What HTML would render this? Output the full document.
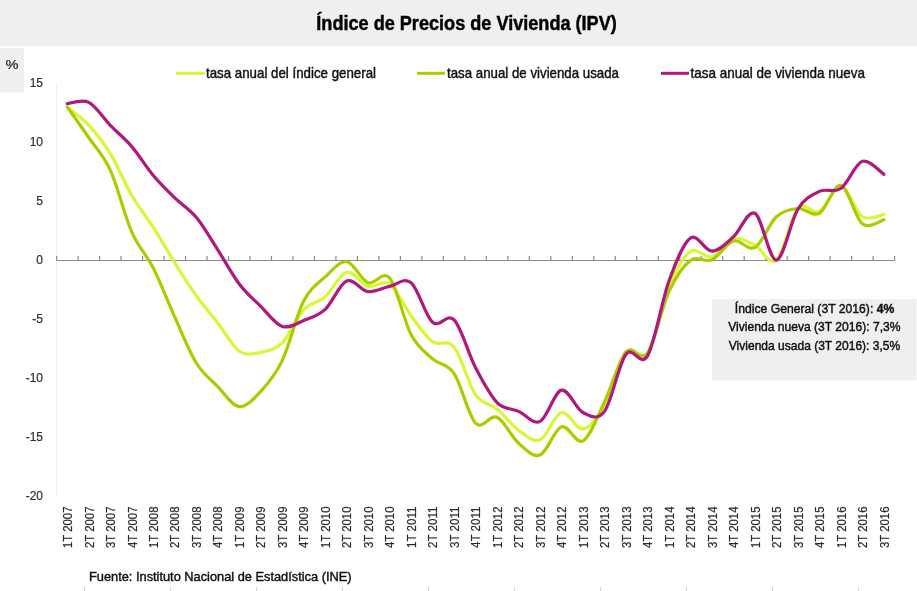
<!DOCTYPE html><html><head><meta charset="utf-8"><style>html,body{margin:0;padding:0;background:#fff;width:917px;height:591px;overflow:hidden}svg{display:block;will-change:transform}text{font-family:"Liberation Sans",sans-serif} .t{stroke:currentColor;stroke-width:0.45px} .u{stroke:currentColor;stroke-width:0.2px}</style></head><body>
<svg width="917" height="591" viewBox="0 0 917 591">
<rect x="0" y="0" width="917" height="591" fill="#ffffff"/>
<rect x="0" y="0" width="917" height="46.5" fill="#eff0ee"/>
<text class="t" color="#000" x="316.3" y="29.7" font-size="20" font-weight="bold" fill="#000" textLength="300.5" lengthAdjust="spacingAndGlyphs">Índice de Precios de Vivienda (IPV)</text>
<rect x="0" y="48" width="24" height="44.5" fill="#eff0ee"/>
<text class="u" color="#222" x="5.5" y="69.4" font-size="13" fill="#222" textLength="13" lengthAdjust="spacingAndGlyphs">%</text>
<line x1="176" y1="73.3" x2="205" y2="73.3" stroke="#d9f736" stroke-width="3"/>
<text class="t" color="#111" x="206" y="77.9" font-size="15" fill="#111" textLength="170" lengthAdjust="spacingAndGlyphs">tasa anual del índice general</text>
<line x1="417" y1="73.3" x2="445" y2="73.3" stroke="#aacc00" stroke-width="3"/>
<text class="t" color="#111" x="447" y="77.9" font-size="15" fill="#111" textLength="172" lengthAdjust="spacingAndGlyphs">tasa anual de vivienda usada</text>
<line x1="661" y1="73.3" x2="689" y2="73.3" stroke="#b0187e" stroke-width="3"/>
<text class="t" color="#111" x="690.5" y="77.9" font-size="15" fill="#111" textLength="174.5" lengthAdjust="spacingAndGlyphs">tasa anual de vivienda nueva</text>
<line x1="56.4" y1="83.3" x2="56.4" y2="496.2" stroke="#ededed" stroke-width="1"/>
<text class="u" color="#2e2e2e" x="43" y="87.3" font-size="12" fill="#2e2e2e" text-anchor="end">15</text>
<text class="u" color="#2e2e2e" x="43" y="146.3" font-size="12" fill="#2e2e2e" text-anchor="end">10</text>
<text class="u" color="#2e2e2e" x="43" y="205.2" font-size="12" fill="#2e2e2e" text-anchor="end">5</text>
<text class="u" color="#2e2e2e" x="43" y="264.2" font-size="12" fill="#2e2e2e" text-anchor="end">0</text>
<text class="u" color="#2e2e2e" x="43" y="323.2" font-size="12" fill="#2e2e2e" text-anchor="end">-5</text>
<text class="u" color="#2e2e2e" x="43" y="382.1" font-size="12" fill="#2e2e2e" text-anchor="end">-10</text>
<text class="u" color="#2e2e2e" x="43" y="441.1" font-size="12" fill="#2e2e2e" text-anchor="end">-15</text>
<text class="u" color="#2e2e2e" x="43" y="500.1" font-size="12" fill="#2e2e2e" text-anchor="end">-20</text>
<line x1="56.6" y1="260.5" x2="894.6" y2="260.5" stroke="#8a8a8a" stroke-width="1.1"/>
<line x1="56.60" y1="256" x2="56.60" y2="260.5" stroke="#8a8a8a" stroke-width="1.2"/>
<line x1="78.09" y1="256" x2="78.09" y2="260.5" stroke="#8a8a8a" stroke-width="1.2"/>
<line x1="99.57" y1="256" x2="99.57" y2="260.5" stroke="#8a8a8a" stroke-width="1.2"/>
<line x1="121.06" y1="256" x2="121.06" y2="260.5" stroke="#8a8a8a" stroke-width="1.2"/>
<line x1="142.55" y1="256" x2="142.55" y2="260.5" stroke="#8a8a8a" stroke-width="1.2"/>
<line x1="164.04" y1="256" x2="164.04" y2="260.5" stroke="#8a8a8a" stroke-width="1.2"/>
<line x1="185.52" y1="256" x2="185.52" y2="260.5" stroke="#8a8a8a" stroke-width="1.2"/>
<line x1="207.01" y1="256" x2="207.01" y2="260.5" stroke="#8a8a8a" stroke-width="1.2"/>
<line x1="228.50" y1="256" x2="228.50" y2="260.5" stroke="#8a8a8a" stroke-width="1.2"/>
<line x1="249.98" y1="256" x2="249.98" y2="260.5" stroke="#8a8a8a" stroke-width="1.2"/>
<line x1="271.47" y1="256" x2="271.47" y2="260.5" stroke="#8a8a8a" stroke-width="1.2"/>
<line x1="292.96" y1="256" x2="292.96" y2="260.5" stroke="#8a8a8a" stroke-width="1.2"/>
<line x1="314.45" y1="256" x2="314.45" y2="260.5" stroke="#8a8a8a" stroke-width="1.2"/>
<line x1="335.93" y1="256" x2="335.93" y2="260.5" stroke="#8a8a8a" stroke-width="1.2"/>
<line x1="357.42" y1="256" x2="357.42" y2="260.5" stroke="#8a8a8a" stroke-width="1.2"/>
<line x1="378.91" y1="256" x2="378.91" y2="260.5" stroke="#8a8a8a" stroke-width="1.2"/>
<line x1="400.39" y1="256" x2="400.39" y2="260.5" stroke="#8a8a8a" stroke-width="1.2"/>
<line x1="421.88" y1="256" x2="421.88" y2="260.5" stroke="#8a8a8a" stroke-width="1.2"/>
<line x1="443.37" y1="256" x2="443.37" y2="260.5" stroke="#8a8a8a" stroke-width="1.2"/>
<line x1="464.86" y1="256" x2="464.86" y2="260.5" stroke="#8a8a8a" stroke-width="1.2"/>
<line x1="486.34" y1="256" x2="486.34" y2="260.5" stroke="#8a8a8a" stroke-width="1.2"/>
<line x1="507.83" y1="256" x2="507.83" y2="260.5" stroke="#8a8a8a" stroke-width="1.2"/>
<line x1="529.32" y1="256" x2="529.32" y2="260.5" stroke="#8a8a8a" stroke-width="1.2"/>
<line x1="550.81" y1="256" x2="550.81" y2="260.5" stroke="#8a8a8a" stroke-width="1.2"/>
<line x1="572.29" y1="256" x2="572.29" y2="260.5" stroke="#8a8a8a" stroke-width="1.2"/>
<line x1="593.78" y1="256" x2="593.78" y2="260.5" stroke="#8a8a8a" stroke-width="1.2"/>
<line x1="615.27" y1="256" x2="615.27" y2="260.5" stroke="#8a8a8a" stroke-width="1.2"/>
<line x1="636.75" y1="256" x2="636.75" y2="260.5" stroke="#8a8a8a" stroke-width="1.2"/>
<line x1="658.24" y1="256" x2="658.24" y2="260.5" stroke="#8a8a8a" stroke-width="1.2"/>
<line x1="679.73" y1="256" x2="679.73" y2="260.5" stroke="#8a8a8a" stroke-width="1.2"/>
<line x1="701.22" y1="256" x2="701.22" y2="260.5" stroke="#8a8a8a" stroke-width="1.2"/>
<line x1="722.70" y1="256" x2="722.70" y2="260.5" stroke="#8a8a8a" stroke-width="1.2"/>
<line x1="744.19" y1="256" x2="744.19" y2="260.5" stroke="#8a8a8a" stroke-width="1.2"/>
<line x1="765.68" y1="256" x2="765.68" y2="260.5" stroke="#8a8a8a" stroke-width="1.2"/>
<line x1="787.16" y1="256" x2="787.16" y2="260.5" stroke="#8a8a8a" stroke-width="1.2"/>
<line x1="808.65" y1="256" x2="808.65" y2="260.5" stroke="#8a8a8a" stroke-width="1.2"/>
<line x1="830.14" y1="256" x2="830.14" y2="260.5" stroke="#8a8a8a" stroke-width="1.2"/>
<line x1="851.63" y1="256" x2="851.63" y2="260.5" stroke="#8a8a8a" stroke-width="1.2"/>
<line x1="873.11" y1="256" x2="873.11" y2="260.5" stroke="#8a8a8a" stroke-width="1.2"/>
<line x1="894.60" y1="256" x2="894.60" y2="260.5" stroke="#8a8a8a" stroke-width="1.2"/>
<text class="u" color="#2a2a2a" transform="translate(72.04,506.5) rotate(-90)" font-size="13" fill="#2a2a2a" text-anchor="end" textLength="41.5" lengthAdjust="spacingAndGlyphs">1T 2007</text>
<text class="u" color="#2a2a2a" transform="translate(93.53,506.5) rotate(-90)" font-size="13" fill="#2a2a2a" text-anchor="end" textLength="41.5" lengthAdjust="spacingAndGlyphs">2T 2007</text>
<text class="u" color="#2a2a2a" transform="translate(115.02,506.5) rotate(-90)" font-size="13" fill="#2a2a2a" text-anchor="end" textLength="41.5" lengthAdjust="spacingAndGlyphs">3T 2007</text>
<text class="u" color="#2a2a2a" transform="translate(136.51,506.5) rotate(-90)" font-size="13" fill="#2a2a2a" text-anchor="end" textLength="41.5" lengthAdjust="spacingAndGlyphs">4T 2007</text>
<text class="u" color="#2a2a2a" transform="translate(157.99,506.5) rotate(-90)" font-size="13" fill="#2a2a2a" text-anchor="end" textLength="41.5" lengthAdjust="spacingAndGlyphs">1T 2008</text>
<text class="u" color="#2a2a2a" transform="translate(179.48,506.5) rotate(-90)" font-size="13" fill="#2a2a2a" text-anchor="end" textLength="41.5" lengthAdjust="spacingAndGlyphs">2T 2008</text>
<text class="u" color="#2a2a2a" transform="translate(200.97,506.5) rotate(-90)" font-size="13" fill="#2a2a2a" text-anchor="end" textLength="41.5" lengthAdjust="spacingAndGlyphs">3T 2008</text>
<text class="u" color="#2a2a2a" transform="translate(222.45,506.5) rotate(-90)" font-size="13" fill="#2a2a2a" text-anchor="end" textLength="41.5" lengthAdjust="spacingAndGlyphs">4T 2008</text>
<text class="u" color="#2a2a2a" transform="translate(243.94,506.5) rotate(-90)" font-size="13" fill="#2a2a2a" text-anchor="end" textLength="41.5" lengthAdjust="spacingAndGlyphs">1T 2009</text>
<text class="u" color="#2a2a2a" transform="translate(265.43,506.5) rotate(-90)" font-size="13" fill="#2a2a2a" text-anchor="end" textLength="41.5" lengthAdjust="spacingAndGlyphs">2T 2009</text>
<text class="u" color="#2a2a2a" transform="translate(286.92,506.5) rotate(-90)" font-size="13" fill="#2a2a2a" text-anchor="end" textLength="41.5" lengthAdjust="spacingAndGlyphs">3T 2009</text>
<text class="u" color="#2a2a2a" transform="translate(308.40,506.5) rotate(-90)" font-size="13" fill="#2a2a2a" text-anchor="end" textLength="41.5" lengthAdjust="spacingAndGlyphs">4T 2009</text>
<text class="u" color="#2a2a2a" transform="translate(329.89,506.5) rotate(-90)" font-size="13" fill="#2a2a2a" text-anchor="end" textLength="41.5" lengthAdjust="spacingAndGlyphs">1T 2010</text>
<text class="u" color="#2a2a2a" transform="translate(351.38,506.5) rotate(-90)" font-size="13" fill="#2a2a2a" text-anchor="end" textLength="41.5" lengthAdjust="spacingAndGlyphs">2T 2010</text>
<text class="u" color="#2a2a2a" transform="translate(372.86,506.5) rotate(-90)" font-size="13" fill="#2a2a2a" text-anchor="end" textLength="41.5" lengthAdjust="spacingAndGlyphs">3T 2010</text>
<text class="u" color="#2a2a2a" transform="translate(394.35,506.5) rotate(-90)" font-size="13" fill="#2a2a2a" text-anchor="end" textLength="41.5" lengthAdjust="spacingAndGlyphs">4T 2010</text>
<text class="u" color="#2a2a2a" transform="translate(415.84,506.5) rotate(-90)" font-size="13" fill="#2a2a2a" text-anchor="end" textLength="41.5" lengthAdjust="spacingAndGlyphs">1T 2011</text>
<text class="u" color="#2a2a2a" transform="translate(437.33,506.5) rotate(-90)" font-size="13" fill="#2a2a2a" text-anchor="end" textLength="41.5" lengthAdjust="spacingAndGlyphs">2T 2011</text>
<text class="u" color="#2a2a2a" transform="translate(458.81,506.5) rotate(-90)" font-size="13" fill="#2a2a2a" text-anchor="end" textLength="41.5" lengthAdjust="spacingAndGlyphs">3T 2011</text>
<text class="u" color="#2a2a2a" transform="translate(480.30,506.5) rotate(-90)" font-size="13" fill="#2a2a2a" text-anchor="end" textLength="41.5" lengthAdjust="spacingAndGlyphs">4T 2011</text>
<text class="u" color="#2a2a2a" transform="translate(501.79,506.5) rotate(-90)" font-size="13" fill="#2a2a2a" text-anchor="end" textLength="41.5" lengthAdjust="spacingAndGlyphs">1T 2012</text>
<text class="u" color="#2a2a2a" transform="translate(523.27,506.5) rotate(-90)" font-size="13" fill="#2a2a2a" text-anchor="end" textLength="41.5" lengthAdjust="spacingAndGlyphs">2T 2012</text>
<text class="u" color="#2a2a2a" transform="translate(544.76,506.5) rotate(-90)" font-size="13" fill="#2a2a2a" text-anchor="end" textLength="41.5" lengthAdjust="spacingAndGlyphs">3T 2012</text>
<text class="u" color="#2a2a2a" transform="translate(566.25,506.5) rotate(-90)" font-size="13" fill="#2a2a2a" text-anchor="end" textLength="41.5" lengthAdjust="spacingAndGlyphs">4T 2012</text>
<text class="u" color="#2a2a2a" transform="translate(587.74,506.5) rotate(-90)" font-size="13" fill="#2a2a2a" text-anchor="end" textLength="41.5" lengthAdjust="spacingAndGlyphs">1T 2013</text>
<text class="u" color="#2a2a2a" transform="translate(609.22,506.5) rotate(-90)" font-size="13" fill="#2a2a2a" text-anchor="end" textLength="41.5" lengthAdjust="spacingAndGlyphs">2T 2013</text>
<text class="u" color="#2a2a2a" transform="translate(630.71,506.5) rotate(-90)" font-size="13" fill="#2a2a2a" text-anchor="end" textLength="41.5" lengthAdjust="spacingAndGlyphs">3T 2013</text>
<text class="u" color="#2a2a2a" transform="translate(652.20,506.5) rotate(-90)" font-size="13" fill="#2a2a2a" text-anchor="end" textLength="41.5" lengthAdjust="spacingAndGlyphs">4T 2013</text>
<text class="u" color="#2a2a2a" transform="translate(673.68,506.5) rotate(-90)" font-size="13" fill="#2a2a2a" text-anchor="end" textLength="41.5" lengthAdjust="spacingAndGlyphs">1T 2014</text>
<text class="u" color="#2a2a2a" transform="translate(695.17,506.5) rotate(-90)" font-size="13" fill="#2a2a2a" text-anchor="end" textLength="41.5" lengthAdjust="spacingAndGlyphs">2T 2014</text>
<text class="u" color="#2a2a2a" transform="translate(716.66,506.5) rotate(-90)" font-size="13" fill="#2a2a2a" text-anchor="end" textLength="41.5" lengthAdjust="spacingAndGlyphs">3T 2014</text>
<text class="u" color="#2a2a2a" transform="translate(738.15,506.5) rotate(-90)" font-size="13" fill="#2a2a2a" text-anchor="end" textLength="41.5" lengthAdjust="spacingAndGlyphs">4T 2014</text>
<text class="u" color="#2a2a2a" transform="translate(759.63,506.5) rotate(-90)" font-size="13" fill="#2a2a2a" text-anchor="end" textLength="41.5" lengthAdjust="spacingAndGlyphs">1T 2015</text>
<text class="u" color="#2a2a2a" transform="translate(781.12,506.5) rotate(-90)" font-size="13" fill="#2a2a2a" text-anchor="end" textLength="41.5" lengthAdjust="spacingAndGlyphs">2T 2015</text>
<text class="u" color="#2a2a2a" transform="translate(802.61,506.5) rotate(-90)" font-size="13" fill="#2a2a2a" text-anchor="end" textLength="41.5" lengthAdjust="spacingAndGlyphs">3T 2015</text>
<text class="u" color="#2a2a2a" transform="translate(824.09,506.5) rotate(-90)" font-size="13" fill="#2a2a2a" text-anchor="end" textLength="41.5" lengthAdjust="spacingAndGlyphs">4T 2015</text>
<text class="u" color="#2a2a2a" transform="translate(845.58,506.5) rotate(-90)" font-size="13" fill="#2a2a2a" text-anchor="end" textLength="41.5" lengthAdjust="spacingAndGlyphs">1T 2016</text>
<text class="u" color="#2a2a2a" transform="translate(867.07,506.5) rotate(-90)" font-size="13" fill="#2a2a2a" text-anchor="end" textLength="41.5" lengthAdjust="spacingAndGlyphs">2T 2016</text>
<text class="u" color="#2a2a2a" transform="translate(888.56,506.5) rotate(-90)" font-size="13" fill="#2a2a2a" text-anchor="end" textLength="41.5" lengthAdjust="spacingAndGlyphs">3T 2016</text>
<rect x="712" y="299" width="204.5" height="81.5" fill="#eff0ee"/>
<text class="t" color="#111" x="734.8" y="312.7" font-size="13" fill="#111" textLength="159.5" lengthAdjust="spacingAndGlyphs">Índice General (3T 2016): <tspan font-weight="bold" style="stroke-width:0.35px">4%</tspan></text>
<text class="t" color="#111" x="728.2" y="330.8" font-size="13" fill="#111" textLength="172.4" lengthAdjust="spacingAndGlyphs">Vivienda nueva (3T 2016): 7,3%</text>
<text class="t" color="#111" x="728.8" y="349.5" font-size="13" fill="#111" textLength="171.4" lengthAdjust="spacingAndGlyphs">Vivienda usada (3T 2016): 3,5%</text>
<path d="M67.34,107.08 C70.92,110.12 81.67,117.59 88.83,125.36 C95.99,133.12 103.16,141.97 110.32,153.66 C117.48,165.36 124.64,183.25 131.81,195.53 C138.97,207.82 146.13,216.17 153.29,227.38 C160.45,238.58 167.62,251.36 174.78,262.76 C181.94,274.16 189.10,285.76 196.27,295.78 C203.43,305.81 210.59,313.67 217.75,322.91 C224.92,332.15 232.08,346.30 239.24,351.21 C246.40,356.13 253.57,353.77 260.73,352.39 C267.89,351.02 275.05,350.03 282.22,342.96 C289.38,335.88 296.54,317.60 303.70,309.93 C310.86,302.27 318.03,303.25 325.19,296.96 C332.35,290.67 339.51,273.96 346.68,272.19 C353.84,270.42 361.00,284.38 368.16,286.35 C375.33,288.31 382.49,279.07 389.65,283.99 C396.81,288.90 403.98,306.20 411.14,315.83 C418.30,325.46 425.46,336.57 432.63,341.78 C439.79,346.99 446.95,338.24 454.11,347.09 C461.28,355.93 468.44,384.53 475.60,394.85 C482.76,405.17 489.92,403.11 497.09,409.00 C504.25,414.90 511.41,425.12 518.57,430.23 C525.74,435.34 532.90,442.62 540.06,439.67 C547.22,436.72 554.39,414.31 561.55,412.54 C568.71,410.77 575.87,430.23 583.04,429.05 C590.20,427.87 597.36,418.05 604.52,405.47 C611.69,392.89 618.85,362.02 626.01,353.57 C633.17,345.12 640.34,365.96 647.50,354.75 C654.66,343.55 661.82,303.55 668.98,286.35 C676.15,269.15 683.31,256.47 690.47,251.55 C697.63,246.64 704.80,258.93 711.96,256.86 C719.12,254.80 726.28,241.14 733.45,239.17 C740.61,237.21 747.77,241.53 754.93,245.07 C762.10,248.61 769.26,266.49 776.42,260.40 C783.58,254.31 790.75,216.66 797.91,208.51 C805.07,200.35 812.23,215.19 819.39,211.45 C826.56,207.72 833.72,185.21 840.88,186.10 C848.04,186.98 855.21,212.04 862.37,216.76 C869.53,221.48 880.28,214.80 883.86,214.40" fill="none" stroke="#d9f736" stroke-width="3.2" stroke-linejoin="round" stroke-linecap="round"/>
<path d="M67.34,107.08 C70.92,112.19 81.67,127.23 88.83,137.74 C95.99,148.26 103.16,154.45 110.32,170.18 C117.48,185.90 124.64,215.78 131.81,232.09 C138.97,248.41 146.13,253.91 153.29,268.07 C160.45,282.22 167.62,301.19 174.78,317.01 C181.94,332.83 189.10,351.41 196.27,363.01 C203.43,374.61 210.59,379.32 217.75,386.60 C224.92,393.87 232.08,405.86 239.24,406.65 C246.40,407.43 253.57,398.98 260.73,391.31 C267.89,383.65 275.05,375.69 282.22,360.65 C289.38,345.61 296.54,315.05 303.70,301.09 C310.86,287.13 318.03,283.50 325.19,276.91 C332.35,270.33 339.51,260.60 346.68,261.58 C353.84,262.56 361.00,280.06 368.16,282.81 C375.33,285.56 382.49,269.44 389.65,278.09 C396.81,286.74 403.98,321.24 411.14,334.70 C418.30,348.17 425.46,352.39 432.63,358.88 C439.79,365.37 446.95,362.91 454.11,373.62 C461.28,384.34 468.44,415.88 475.60,423.16 C482.76,430.43 489.92,413.92 497.09,417.26 C504.25,420.60 511.41,436.92 518.57,443.21 C525.74,449.50 532.90,457.75 540.06,455.00 C547.22,452.25 554.39,429.05 561.55,426.70 C568.71,424.34 575.87,444.98 583.04,440.85 C590.20,436.72 597.36,416.77 604.52,401.93 C611.69,387.09 618.85,359.96 626.01,351.80 C633.17,343.65 640.34,363.01 647.50,352.98 C654.66,342.96 661.82,307.08 668.98,291.65 C676.15,276.22 683.31,265.71 690.47,260.40 C697.63,255.09 704.80,263.05 711.96,259.81 C719.12,256.57 726.28,243.00 733.45,240.94 C740.61,238.88 747.77,251.46 754.93,247.43 C762.10,243.40 769.26,223.25 776.42,216.76 C783.58,210.28 790.75,209.10 797.91,208.51 C805.07,207.92 812.23,217.06 819.39,213.22 C826.56,209.39 833.72,183.74 840.88,185.51 C848.04,187.28 855.21,218.14 862.37,223.84 C869.53,229.54 880.28,220.40 883.86,219.71" fill="none" stroke="#aacc00" stroke-width="3.2" stroke-linejoin="round" stroke-linecap="round"/>
<path d="M67.34,103.54 C70.92,103.34 81.67,98.72 88.83,102.36 C95.99,106.00 103.16,117.99 110.32,125.36 C117.48,132.73 124.64,138.23 131.81,146.59 C138.97,154.94 146.13,166.93 153.29,175.48 C160.45,184.03 167.62,190.91 174.78,197.89 C181.94,204.87 189.10,208.70 196.27,217.35 C203.43,226.00 210.59,238.68 217.75,249.79 C224.92,260.89 232.08,274.55 239.24,283.99 C246.40,293.42 253.57,299.32 260.73,306.40 C267.89,313.47 275.05,324.09 282.22,326.45 C289.38,328.81 296.54,323.40 303.70,320.55 C310.86,317.70 318.03,315.93 325.19,309.35 C332.35,302.76 339.51,283.99 346.68,281.04 C353.84,278.09 361.00,290.77 368.16,291.65 C375.33,292.54 382.49,287.82 389.65,286.35 C396.81,284.87 403.98,276.81 411.14,282.81 C418.30,288.80 425.46,316.13 432.63,322.32 C439.79,328.51 446.95,312.39 454.11,319.96 C461.28,327.53 468.44,353.97 475.60,367.73 C482.76,381.49 489.92,395.24 497.09,402.52 C504.25,409.79 511.41,408.22 518.57,411.36 C525.74,414.51 532.90,424.93 540.06,421.39 C547.22,417.85 554.39,391.61 561.55,390.13 C568.71,388.66 575.87,409.00 583.04,412.54 C590.20,416.08 597.36,421.09 604.52,411.36 C611.69,401.63 618.85,363.40 626.01,354.16 C633.17,344.92 640.34,368.12 647.50,355.93 C654.66,343.74 661.82,300.70 668.98,281.04 C676.15,261.38 683.31,242.96 690.47,237.99 C697.63,233.02 704.80,251.40 711.96,251.20 C719.12,251.00 726.28,243.14 733.45,236.81 C740.61,230.48 747.77,209.35 754.93,213.22 C762.10,217.10 769.26,260.73 776.42,260.05 C783.58,259.36 790.75,220.54 797.91,209.10 C805.07,197.66 812.23,194.85 819.39,191.41 C826.56,187.97 833.72,193.47 840.88,188.46 C848.04,183.44 855.21,163.69 862.37,161.33 C869.53,158.97 880.28,172.14 883.86,174.30" fill="none" stroke="#b0187e" stroke-width="3.2" stroke-linejoin="round" stroke-linecap="round"/>
<text class="t" color="#111" x="89" y="580.8" font-size="13.5" fill="#111" textLength="262.5" lengthAdjust="spacingAndGlyphs">Fuente: Instituto Nacional de Estadística (INE)</text>
<line x1="84.4" y1="587" x2="84.4" y2="591" stroke="#d0d0d0" stroke-width="1"/>
<line x1="170.4" y1="587" x2="170.4" y2="591" stroke="#d0d0d0" stroke-width="1"/>
<line x1="256.4" y1="587" x2="256.4" y2="591" stroke="#d0d0d0" stroke-width="1"/>
<line x1="342.4" y1="587" x2="342.4" y2="591" stroke="#d0d0d0" stroke-width="1"/>
<line x1="428.4" y1="587" x2="428.4" y2="591" stroke="#d0d0d0" stroke-width="1"/>
<line x1="514.4" y1="587" x2="514.4" y2="591" stroke="#d0d0d0" stroke-width="1"/>
<line x1="600.4" y1="587" x2="600.4" y2="591" stroke="#d0d0d0" stroke-width="1"/>
<line x1="686.4" y1="587" x2="686.4" y2="591" stroke="#d0d0d0" stroke-width="1"/>
<line x1="772.4" y1="587" x2="772.4" y2="591" stroke="#d0d0d0" stroke-width="1"/>
<line x1="858.4" y1="587" x2="858.4" y2="591" stroke="#d0d0d0" stroke-width="1"/>
</svg></body></html>
